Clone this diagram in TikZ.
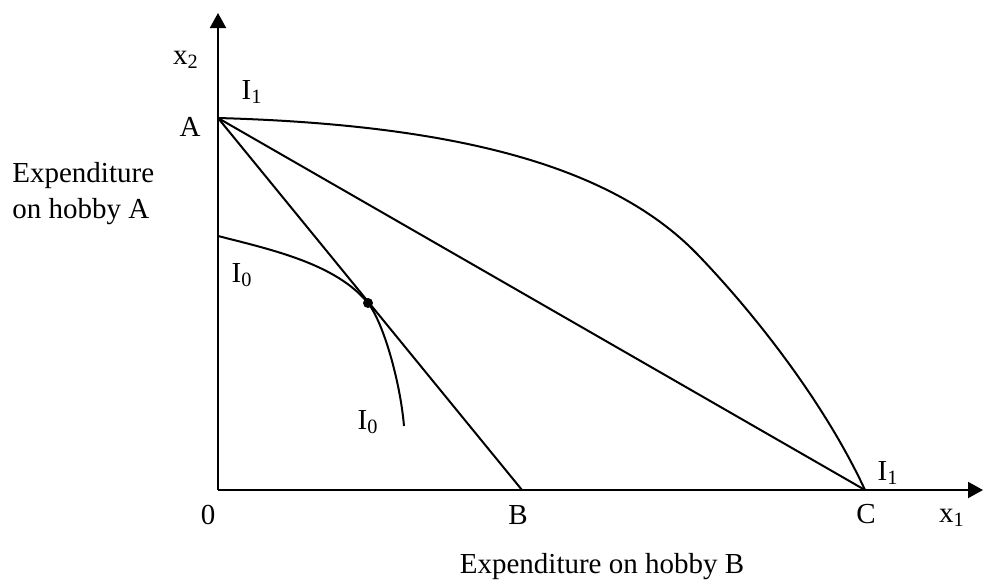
\documentclass[tikz,border=0pt]{standalone}
\usepackage{fontspec}
\setmainfont{Liberation Serif}
\usepackage{tikz}
\usetikzlibrary{arrows.meta, positioning, calc}
\tikzset{
    % axes and curves
    axisline/.style={line width=1pt, -{Triangle[length=7.5pt, width=8pt]}},
    curveline/.style={line width=1pt},
    budget/.style={line width=1pt},
    lbl/.style={font=\fontsize{14.5}{16}\selectfont, inner sep=0pt},
    tangdot/.style={circle, fill=black, inner sep=0pt, minimum size=5pt},
}
\begin{document}
\begin{tikzpicture}[x=0.5pt, y=0.5pt]
\useasboundingbox (-218,-96) rectangle (766,490);

\coordinate (O)  at (0,0);
\coordinate (yt) at (0,477);
\coordinate (xt) at (765,0);
\coordinate (A)  at (0,372);
\coordinate (B)  at (304,0);
\coordinate (C)  at (647,0);
\coordinate (T)  at (150,187);
\coordinate (i0s) at (0,254);
\coordinate (i0e) at (186,64);
\coordinate (i1m) at (482,233);

% axes
\draw[axisline] (O) -- (yt);
\draw[axisline] (O) -- (xt);

% budget lines
\draw[budget] (A) -- (B);
\draw[budget] (A) -- (C);

% indifference curves
\draw[curveline] (A) .. controls (250,365) and (400,320) .. (i1m)
                     .. controls (545,167) and (610,80) .. (C);
\draw[curveline] (i0s) .. controls (55,240) and (118,226) .. (T)
                       .. controls (165,168) and (182,110) .. (i0e);
\node[tangdot] (tp) at (T) {};

% labels
\node[lbl] (lx2) at (-32,430) {x\textsubscript{2}};
\node[lbl] (lA)  at (-28,363) {A};
\node[lbl] (lI1a) at (34,398) {I\textsubscript{1}};
\node[lbl] (lI0a) at (24,215) {I\textsubscript{0}};
\node[lbl] (lI0b) at (150,68) {I\textsubscript{0}};
\node[lbl] (lI1b) at (670,17) {I\textsubscript{1}};
\node[lbl] (l0)  at (-10,-25) {0};
\node[lbl] (lB)  at (300,-25) {B};
\node[lbl] (lC)  at (648,-24) {C};
\node[lbl] (lx1) at (734,-28) {x\textsubscript{1}};
\node[lbl, align=left, anchor=west] (ylab) at (-206,296) {Expenditure\\[2pt]on hobby A};
\node[lbl] (xlab) at (384,-77) {Expenditure on hobby B};
\end{tikzpicture}
\end{document}
